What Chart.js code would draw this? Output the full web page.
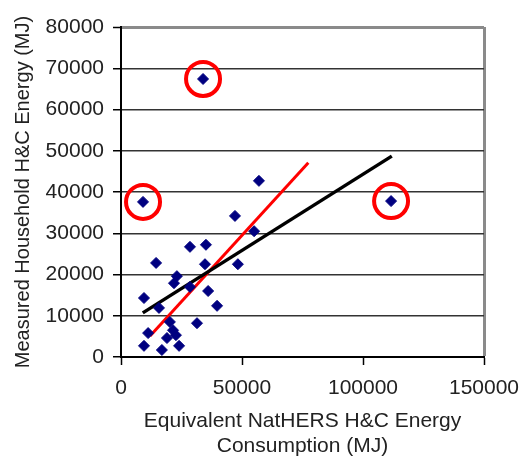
<!DOCTYPE html>
<html>
<head>
<meta charset="utf-8">
<script src="https://cdn.jsdelivr.net/npm/chart.js@4/dist/chart.umd.min.js"></script>
<style>
  html, body { margin: 0; padding: 0; background: #fff; }
  #wrap { width: 520px; height: 459px; }
</style>
</head>
<body>
<div id="wrap"><canvas id="scatterChart" width="520" height="459"></canvas></div>
<script>
// Household points (MJ)
const nathersX = [33900, 9100, 111600, 57000, 47100, 55000, 28500, 35100, 14500, 34700, 48300, 23100, 21900, 28500, 36000, 9500, 39700, 15700, 20200, 31400, 11200, 19000, 22700, 24000, 9500, 16900, 21500];
const measuredY = [67400, 37600, 37800, 42700, 34200, 30500, 26700, 27200, 22800, 22500, 22500, 19600, 17900, 17000, 16000, 14300, 12400, 11900, 8500, 8200, 5800, 4600, 5300, 2700, 2700, 1700, 6500];

// circled outliers
const outlierX = [33900, 9100, 111600];
const outlierY = [67400, 37600, 37800];

// fitted lines
const blackLineX = [9000, 111900];
const blackLineY = [10700, 48700];
const redLineX = [12000, 77400];
const redLineY = [5100, 47100];

const xTicksMax = 150000;
const yTicksMax = 80000;

const toPoints = (xs, ys) => xs.map((x, i) => ({ x: x, y: ys[i] }));

const tickFont = { family: "'Liberation Sans', Arial, sans-serif", size: 21 };
const yTitleFont = { family: "'Liberation Sans', Arial, sans-serif", size: 20 };
const xTitleFont = { family: "'Liberation Sans', Arial, sans-serif", size: 21 };
const plain = v => String(v);

new Chart(document.getElementById("scatterChart"), {
  type: "scatter",
  data: {
    datasets: [
      {
        label: "Households",
        data: toPoints(nathersX, measuredY),
        pointStyle: "rectRot",
        pointRadius: 5.5,
        borderWidth: 1,
        backgroundColor: "#000080",
        borderColor: "#000080"
      },
      {
        type: "line",
        label: "Fit",
        data: toPoints(blackLineX, blackLineY),
        borderColor: "#000",
        borderWidth: 3.5,
        pointRadius: 0,
        fill: false
      },
      {
        type: "line",
        label: "Fit 2",
        data: toPoints(redLineX, redLineY),
        borderColor: "#ff0000",
        borderWidth: 3,
        pointRadius: 0,
        fill: false
      },
      {
        label: "Outliers",
        data: toPoints(outlierX, outlierY),
        pointStyle: "circle",
        pointRadius: 17,
        borderWidth: 4,
        borderColor: "#ff0000",
        backgroundColor: "rgba(0,0,0,0)"
      }
    ]
  },
  options: {
    responsive: false,
    animation: false,
    layout: { padding: { top: 27, right: 36, left: 0, bottom: 0 } },
    plugins: {
      legend: { display: false },
      tooltip: { enabled: false }
    },
    scales: {
      x: {
        type: "linear",
        min: 0,
        max: xTicksMax,
        afterFit: s => { s.height = 102; s.paddingRight = 0; s.paddingLeft = 0; },
        ticks: { stepSize: 50000, color: "#222", font: tickFont, padding: 11, maxRotation: 0, callback: plain },
        grid: {
          color: c => c.index === 3 ? "#8a8a8a" : "rgba(0,0,0,0)",
          lineWidth: c => c.index === 3 ? 3 : 1,
          tickColor: "#000",
          tickWidth: 1.5,
          tickLength: 8
        },
        border: { color: "#000", width: 2 },
        title: {
          display: true,
          text: ["Equivalent NatHERS H&C Energy", "Consumption (MJ)"],
          color: "#222",
          font: xTitleFont,
          padding: { top: 0, bottom: 0 }
        }
      },
      y: {
        min: 0,
        max: yTicksMax,
        afterFit: s => { s.width = 121; },
        ticks: { stepSize: 10000, color: "#222", font: tickFont, padding: 9, callback: plain },
        grid: {
          color: c => c.tick && c.tick.value === yTicksMax ? "#8a8a8a" : "#333",
          lineWidth: c => c.tick && c.tick.value === yTicksMax ? 3 : 1.5,
          tickColor: "#000",
          tickWidth: 1.5,
          tickLength: 8
        },
        border: { color: "#000", width: 2 },
        title: {
          display: true,
          text: "Measured Household H&C Energy (MJ)",
          color: "#222",
          font: yTitleFont,
          padding: { top: 11, bottom: 0 }
        }
      }
    }
  }
});
</script>
</body>
</html>
